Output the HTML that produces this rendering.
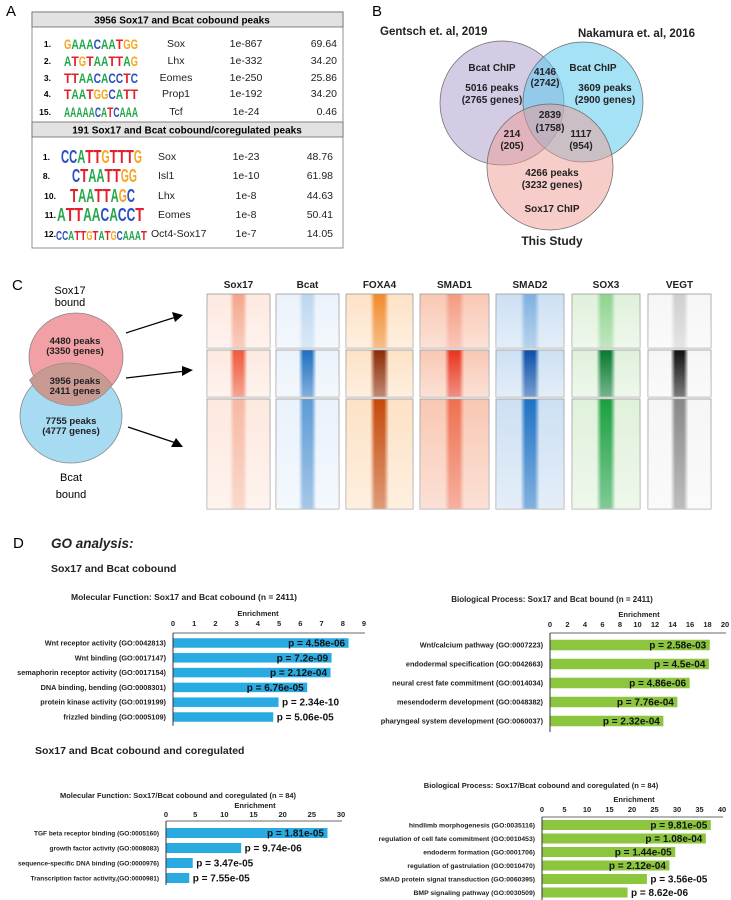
<!DOCTYPE html>
<html><head><meta charset="utf-8"><style>
html,body{margin:0;padding:0;background:#fff;}
svg{display:block;font-family:"Liberation Sans",sans-serif;}
</style></head><body>
<svg id="fig" width="731" height="900" viewBox="0 0 731 900" xmlns="http://www.w3.org/2000/svg">
<defs>
<linearGradient id="fadeV" x1="0" y1="0" x2="0" y2="1"><stop offset="0" stop-color="#fff" stop-opacity="0"/><stop offset="1" stop-color="#fff" stop-opacity="0.45"/></linearGradient>
</defs>
<g>
<text x="6" y="16" font-size="15">A</text>
<rect x="32" y="12" width="311" height="236" fill="#fff" stroke="#777" stroke-width="0.8"/>
<rect x="32" y="12" width="311" height="15" fill="#e2e2e2" stroke="#666" stroke-width="0.8"/>
<text x="182" y="23.5" font-size="10" font-weight="bold" text-anchor="middle">3956  Sox17 and Bcat cobound peaks</text>
<rect x="32" y="122" width="311" height="15" fill="#e2e2e2" stroke="#666" stroke-width="0.8"/>
<text x="187" y="133.5" font-size="10" font-weight="bold" text-anchor="middle">191 Sox17 and Bcat cobound/coregulated peaks</text>
<g id="motifs"></g>
</g>
<g>
<text x="372" y="16" font-size="15">B</text>
<text x="380" y="35" font-size="11.5" font-weight="bold" fill="#222">Gentsch et. al, 2019</text>
<text x="578" y="37" font-size="11.5" font-weight="bold" fill="#222">Nakamura et. al, 2016</text>
<circle cx="502" cy="103" r="62" fill="#b8a8d4" fill-opacity="0.6" stroke="#666" stroke-width="0.7"/>
<circle cx="583" cy="102" r="60" fill="#5ccbef" fill-opacity="0.55" stroke="#666" stroke-width="0.7"/>
<circle cx="550" cy="167" r="63" fill="#ee9c94" fill-opacity="0.5" stroke="#666" stroke-width="0.7"/>
<g font-size="10" font-weight="bold" fill="#222" text-anchor="middle">
<text x="492" y="71">Bcat ChIP</text><text x="492" y="91">5016 peaks</text><text x="492" y="103">(2765 genes)</text>
<text x="545" y="75">4146</text><text x="545" y="86">(2742)</text>
<text x="593" y="71">Bcat ChIP</text><text x="605" y="91">3609 peaks</text><text x="605" y="103">(2900 genes)</text>
<text x="550" y="118">2839</text><text x="550" y="131">(1758)</text>
<text x="512" y="137">214</text><text x="512" y="149">(205)</text>
<text x="581" y="137">1117</text><text x="581" y="149">(954)</text>
<text x="552" y="176">4266 peaks</text><text x="552" y="188">(3232 genes)</text>
<text x="552" y="212">Sox17 ChIP</text>
</g>
<text x="552" y="245" font-size="12" font-weight="bold" text-anchor="middle" fill="#222">This Study</text>
</g>
<g>
<text x="12" y="290" font-size="15">C</text>
<text x="70" y="294" font-size="11" text-anchor="middle">Sox17</text>
<text x="70" y="306" font-size="11" text-anchor="middle">bound</text>
<ellipse cx="71" cy="416" rx="51" ry="47" fill="#a6dbf2" stroke="#888" stroke-width="0.8"/>
<ellipse cx="76" cy="357" rx="47" ry="44" fill="#f1a1a5" stroke="#888" stroke-width="0.8"/>
<path d="M29.5,380 A51,47 0 0,1 112,385 A47,44 0 0,1 29.5,380 Z" fill="#c99a92" stroke="#888" stroke-width="0.6"/>
<g font-size="9.5" font-weight="bold" text-anchor="middle" fill="#222">
<text x="75" y="344">4480 peaks</text><text x="75" y="354">(3350 genes)</text>
<text x="75" y="384">3956 peaks</text><text x="75" y="394">2411 genes</text>
<text x="71" y="424">7755 peaks</text><text x="71" y="434">(4777 genes)</text>
</g>
<text x="71" y="481" font-size="11" text-anchor="middle">Bcat</text>
<text x="71" y="498" font-size="11" text-anchor="middle">bound</text>
<g stroke="#000" stroke-width="1.2">
<line x1="126" y1="333" x2="176" y2="317"/><line x1="126" y1="378" x2="186" y2="371"/><line x1="128" y1="427" x2="176" y2="443"/>
</g>
<g fill="#000"><polygon points="183,315 172,312 175,322"/><polygon points="193,370 182,366 182,376"/><polygon points="183,447 171,447 176,438"/></g>
<g id="heatmaps"></g>
</g>
<g>
<text x="13" y="548" font-size="15">D</text>
<text x="51" y="548" font-size="13.5" font-weight="bold" font-style="italic" fill="#222">GO analysis:</text>
<text x="51" y="572" font-size="10.5" font-weight="bold" fill="#222">Sox17 and Bcat cobound</text>
<text x="35" y="754" font-size="10.5" font-weight="bold" fill="#222">Sox17 and Bcat cobound and coregulated</text>
<g id="charts"></g>
</g>
</svg>
<script>
const mfCoboundCats = ["Wnt receptor activity (GO:0042813)","Wnt binding (GO:0017147)","semaphorin receptor activity (GO:0017154)","DNA binding, bending (GO:0008301)","protein kinase activity (GO:0019199)","frizzled binding (GO:0005109)"];
const mfCoboundVals = [8.25, 7.45, 7.4, 6.3, 4.95, 4.7];
const mfCoboundP = ["p = 4.58e-06","p = 7.2e-09","p = 2.12e-04","p = 6.76e-05","p = 2.34e-10","p = 5.06e-05"];
const mfCoboundTicks = [0,1,2,3,4,5,6,7,8,9];

const bpCoboundCats = ["Wnt/calcium pathway (GO:0007223)","endodermal specification (GO:0042663)","neural crest fate commitment (GO:0014034)","mesendoderm development (GO:0048382)","pharyngeal system development (GO:0060037)"];
const bpCoboundVals = [18.2, 18.1, 15.9, 14.5, 12.9];
const bpCoboundP = ["p = 2.58e-03","p = 4.5e-04","p = 4.86e-06","p = 7.76e-04","p = 2.32e-04"];
const bpCoboundTicks = [0,2,4,6,8,10,12,14,16,18,20];

const mfCoregCats = ["TGF beta receptor binding (GO:0005160)","growth factor activity (GO:0008083)","sequence-specific DNA binding (GO:0000976)","Transcription factor activity,(GO:0000981)"];
const mfCoregVals = [27.6, 12.8, 4.5, 3.9];
const mfCoregP = ["p = 1.81e-05","p = 9.74e-06","p = 3.47e-05","p = 7.55e-05"];
const mfCoregTicks = [0,5,10,15,20,25,30];

const bpCoregCats = ["hindlimb morphogenesis (GO:0035116)","regulation of cell fate commitment (GO:0010453)","endoderm formation (GO:0001706)","regulation of gastrulation (GO:0010470)","SMAD protein signal transduction (GO:0060395)","BMP signaling pathway (GO:0030509)"];
const bpCoregVals = [37.4, 36.3, 29.5, 28.2, 23.2, 18.9];
const bpCoregP = ["p = 9.81e-05","p = 1.08e-04","p = 1.44e-05","p = 2.12e-04","p = 3.56e-05","p = 8.62e-06"];
const bpCoregTicks = [0,5,10,15,20,25,30,35,40];

const NS="http://www.w3.org/2000/svg";
function mk(tag, attrs, parent, txt){
  const e=document.createElementNS(NS,tag);
  for(const k in attrs) e.setAttribute(k, attrs[k]);
  if(txt!==undefined) e.textContent=txt;
  parent.appendChild(e); return e;
}
const charts=document.getElementById('charts');

function drawChart(name, cats, vals, ps, ticks, L){
  const g=mk('g',{},charts);
  
  
  const maxV=ticks[ticks.length-1];
  const xs=v=>L.x0+(v/maxV)*(L.x1-L.x0);
  const t=mk('text',{x:L.tx,y:L.ty,'font-size':L.tfs,'font-weight':'bold','text-anchor':'middle',fill:'#222'},g,L.title);
  
  
  const en=mk('text',{x:L.ex,y:L.ey,'font-size':7.5,'font-weight':'bold','text-anchor':'middle',fill:'#222'},g,'Enrichment');
  
  
  ticks.forEach(v=>{
    const tk=mk('text',{x:xs(v),y:L.tky,'font-size':7.5,'font-weight':'bold','text-anchor':'middle',fill:'#222'},g,String(v));
    
    
  });
  const ax=mk('line',{x1:L.x0,y1:L.ay,x2:L.x1+1,y2:L.ay,stroke:'#888','stroke-width':1.3},g);
  
  
  const ay=mk('line',{x1:L.x0,y1:L.ay,x2:L.x0,y2:L.ay+L.step*cats.length+4,stroke:'#333','stroke-width':1},g);
  
  
  cats.forEach((c,i)=>{
    const cy=L.ay+L.first+i*L.step;
    const lb=mk('text',{x:L.x0-7,y:cy+2.5,'font-size':L.lfs,'text-anchor':'end',fill:'#222','font-weight':'bold'},g,c);
    
    
    const w=xs(vals[i])-L.x0;
    const b=mk('rect',{x:L.x0+0.5,y:cy-L.bh/2,width:w,height:L.bh,fill:L.color},g);
    
    
    const inside=vals[i]/maxV>0.6;
    const pt=mk('text',{x:inside?xs(vals[i])-3:xs(vals[i])+4,y:cy+3.5,'font-size':L.pfs,'font-weight':'bold','text-anchor':inside?'end':'start',fill:'#111'},g,ps[i]);
    
    
  });
}
drawChart('chart-mf-cobound', mfCoboundCats, mfCoboundVals, mfCoboundP, mfCoboundTicks,
 {x0:173,x1:364,title:'Molecular Function: Sox17 and Bcat cobound (n = 2411)',tx:184,ty:600,tfs:8.5,ex:258,ey:616,tky:626,ay:633,first:10,step:14.8,bh:9.5,lfs:7.3,pfs:10,color:'#29abe2'});
drawChart('chart-bp-cobound', bpCoboundCats, bpCoboundVals, bpCoboundP, bpCoboundTicks,
 {x0:550,x1:725,title:'Biological Process: Sox17 and Bcat bound (n = 2411)',tx:552,ty:602,tfs:8,ex:639,ey:617,tky:627,ay:633,first:12,step:19,bh:10.5,lfs:7.3,pfs:10,color:'#8cc63f'});
drawChart('chart-mf-coreg', mfCoregCats, mfCoregVals, mfCoregP, mfCoregTicks,
 {x0:166,x1:341,title:'Molecular Function: Sox17/Bcat cobound and coregulated (n = 84)',tx:178,ty:798,tfs:7.5,ex:255,ey:808,tky:817,ay:821,first:12,step:15,bh:10,lfs:6.5,pfs:10,color:'#29abe2'});
drawChart('chart-bp-coreg', bpCoregCats, bpCoregVals, bpCoregP, bpCoregTicks,
 {x0:542,x1:722,title:'Biological Process: Sox17/Bcat cobound and coregulated (n = 84)',tx:541,ty:788,tfs:7.5,ex:634,ey:802,tky:812,ay:817,first:8,step:13.5,bh:10,lfs:6.8,pfs:10,color:'#8cc63f'});

const motifs=document.getElementById('motifs');
const letterColor={A:'#22a84a',C:'#2a4fc4',G:'#f5a623',T:'#e0202a'};
const rows1=[["1.","GAAACAATGG","Sox","1e-867","69.64",43],["2.","ATGTAATTAG","Lhx","1e-332","34.20",60],["3.","TTAACACCTC","Eomes","1e-250","25.86",77],["4.","TAATGGCATT","Prop1","1e-192","34.20",93],["15.","AAAAACATCAAA","Tcf","1e-24","0.46",111]];
const rows2=[["1.","CCATTGTTTG","Sox","1e-23","48.76",156,61,142],["8.","CTAATTGG","Isl1","1e-10","61.98",175,72,137],["10.","TAATTAGC","Lhx","1e-8","44.63",195,70,135],["11.","ATTAACACCT","Eomes","1e-8","50.41",214,57,144],["12.","CCATTGTATGCAAAT","Oct4-Sox17","1e-7","14.05",233,56,147]];
function logo(seq,x0,x1,y,fs){
  const w=(x1-x0)/seq.length;
  for(let i=0;i<seq.length;i++){
    const ch=seq[i];
    const t=mk('text',{x:x0+i*w,y:y,'font-size':fs,'font-weight':'bold',fill:letterColor[ch],textLength:w,lengthAdjust:'spacingAndGlyphs'},motifs,ch);
    
    
  }
}
rows1.forEach(r=>{
  const y=r[5]+4;
  const n=mk('text',{x:51,y:y,'font-size':8.5,'font-weight':'bold','text-anchor':'end'},motifs,r[0]);
  
  
  logo(r[1],64,138,y+2,14);
  const nm=mk('text',{x:176,y:y,'font-size':10.5,'text-anchor':'middle',fill:'#222'},motifs,r[2]);
  
  
  const p=mk('text',{x:246,y:y,'font-size':10.5,'text-anchor':'middle',fill:'#222'},motifs,r[3]);
  
  
  const pc=mk('text',{x:337,y:y,'font-size':10.5,'text-anchor':'end',fill:'#222'},motifs,r[4]);
  
  
});
rows2.forEach(r=>{
  const y=r[5]+4;
  const n=mk('text',{x:r[0].length>2?56:50,y:y,'font-size':8.5,'font-weight':'bold','text-anchor':'end'},motifs,r[0]);
  
  
  logo(r[1],r[6],r[7],y+3,r[1].length>12?13:18);
  const nm=mk('text',{x:r[2].length>6?151:158,y:y,'font-size':10.5,fill:'#222'},motifs,r[2]);
  
  
  const p=mk('text',{x:246,y:y,'font-size':10.5,'text-anchor':'middle',fill:'#222'},motifs,r[3]);
  
  
  const pc=mk('text',{x:333,y:y,'font-size':10.5,'text-anchor':'end',fill:'#222'},motifs,r[4]);
  
  
});

const hmNames=["Sox17","Bcat","FOXA4","SMAD1","SMAD2","SOX3","VEGT"];
const hmX=[[207,270],[276,339],[346,413],[420,489],[496,564],[572,640],[648,711]];
const hmBg=["#fde9e0","#eaf2fb","#fde2c6","#f9c8b4","#cde0f3","#e0f1db","#f6f6f6"];
const hmPeak=[["#f4a58a","#ee5a3a","#f6b9a3"],["#bcd6ef","#1f6fc0","#5d9bd6"],["#f08a2a","#8b2a05","#c44a0a"],["#f49a80","#e8341e","#ee7050"],["#7fb0e0","#0b4fa8","#1f72c4"],["#8fd38f","#067a2e","#1aa040"],["#cfcfcf","#111111","#888888"]];
const hmRows=[[294,348],[350,397],[399,509]];
const hm=document.getElementById('heatmaps');
const defs=document.querySelector('defs');
hmNames.forEach((nm,i)=>{
  const [x0,x1]=hmX[i];
  const lab=mk('text',{x:(x0+x1)/2,y:288,'font-size':10,'font-weight':'bold','text-anchor':'middle',fill:'#222'},hm,nm);
  
  
  hmRows.forEach((r,j)=>{
    const id='g'+i+'_'+j;
    const gr=mk('linearGradient',{id:id,x1:0,y1:0,x2:1,y2:0},defs);
    const pc=hmPeak[i][j];
    [[0,hmBg[i],1],[0.36,hmBg[i],1]].forEach(s=>mk('stop',{offset:s[0],'stop-color':s[1]},gr));
    mk('stop',{offset:0.43,'stop-color':pc,'stop-opacity':1},gr);
    mk('stop',{offset:0.5,'stop-color':pc},gr);
    mk('stop',{offset:0.57,'stop-color':pc},gr);
    [[0.64,hmBg[i]],[1,hmBg[i]]].forEach(s=>mk('stop',{offset:s[0],'stop-color':s[1]},gr));
    const rc=mk('rect',{x:x0,y:r[0],width:x1-x0,height:r[1]-r[0],fill:'url(#'+id+')',stroke:'#999','stroke-width':0.8},hm);
    
    
    const fv=mk('rect',{x:x0,y:r[0],width:x1-x0,height:r[1]-r[0],fill:'url(#fadeV)'},hm);
    
    
  });
});
</script>
</body></html>
